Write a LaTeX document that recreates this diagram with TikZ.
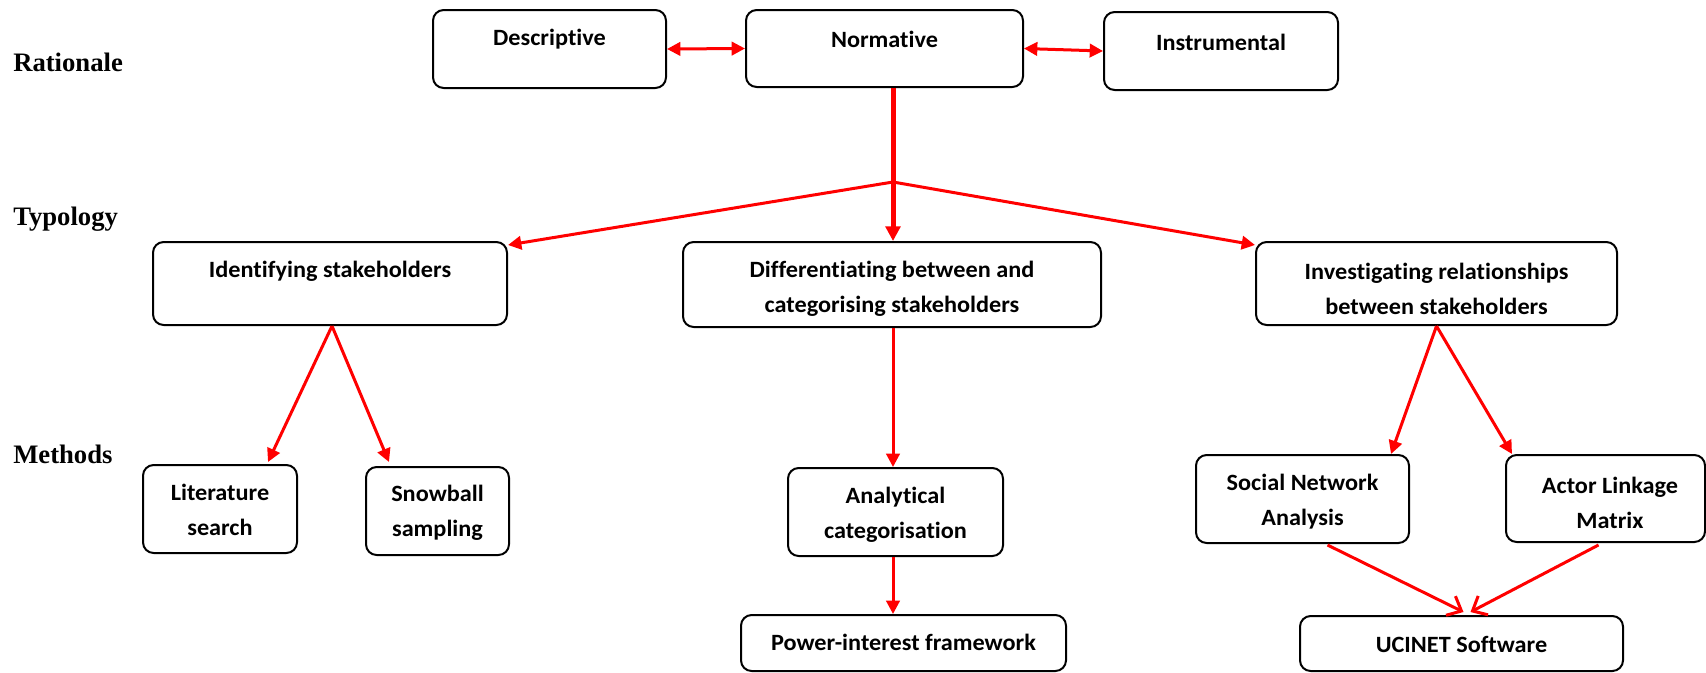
\documentclass[tikz,border=0pt]{standalone}
\usepackage{fontspec}
\setmainfont[Ligatures=CommonOff,FakeStretch=1.04]{Carlito}
\newfontfamily\rowfont{Liberation Serif}
\usetikzlibrary{arrows.meta,fit,calc}
\definecolor{arrowred}{RGB}{255,0,0}
\begin{document}
\begin{tikzpicture}[x=0.75pt,y=-0.75pt,
  box/.style={draw=black,line width=1.5pt,rounded corners=8pt,inner sep=0pt},
  txt/.style={font=\fontsize{17.5}{26.25}\selectfont\bfseries,align=center,inner sep=0pt},
  rowlbl/.style={font=\fontsize{20}{24}\selectfont\rowfont\bfseries,anchor=west,inner sep=0pt},
  link/.style={draw=arrowred,line width=2.25pt,-{Triangle[length=10pt,width=10pt]}},
  duallink/.style={draw=arrowred,line width=2.25pt,{Triangle[length=10pt,width=10pt]}-{Triangle[length=10pt,width=10pt]}},
  openlink/.style={draw=arrowred,line width=2.25pt,-{Straight Barb[length=9pt,width=16pt,line width=2.25pt]}}]
\useasboundingbox (0,0) rectangle (1706,672);

% row labels
\node[rowlbl] (rat) at (13,62) {Rationale};
\node[rowlbl] (typ) at (13,219) {Typology};
\node[rowlbl] (met) at (13,454) {Methods};

% rationale boxes
\node[box,fit={(433,10) (666,88)}] (desc) {};
\node[box,fit={(746,10) (1023,87)}] (norm) {};
\node[box,fit={(1104,12) (1338,90)}] (instr) {};
\node[txt] (descT) at (549.5,39) {Descriptive};
\node[txt] (normT) at (884.5,39) {Normative};
\node[txt] (instrT) at (1221,42) {Instrumental};

% typology boxes
\node[box,fit={(153,242) (507,325)}] (ident) {};
\node[box,fit={(683,242) (1101,327)}] (diff) {};
\node[box,fit={(1256,242) (1617,325)}] (inv) {};
\node[txt] (identT) at (330,271) {Identifying stakeholders};
\node[txt] (diffT) at (892,288.5) {Differentiating between and\\categorising stakeholders};
\node[txt] (invT) at (1436.5,288.5) {Investigating relationships\\between stakeholders};

% method boxes
\node[box,fit={(143,465) (297,553)}] (lit) {};
\node[box,fit={(366,467) (509,555)}] (snow) {};
\node[box,fit={(788,468) (1003,556)}] (anal) {};
\node[box,fit={(741,615) (1066,671)}] (power) {};
\node[box,fit={(1196,455) (1409,543)}] (sna) {};
\node[box,fit={(1506,455) (1705,542)}] (alm) {};
\node[box,fit={(1300,616) (1623,671)}] (ucinet) {};
\node[txt] (litT) at (220,509.5) {Literature\\search};
\node[txt] (snowT) at (437.5,512.5) {Snowball\\sampling};
\node[txt] (analT) at (895.5,514.5) {Analytical\\categorisation};
\node[txt] (powerT) at (903.5,642) {Power-interest framework};
\node[txt] (snaT) at (1302.5,501.5) {Social Network\\Analysis};
\node[txt] (almT) at (1610,503) {Actor Linkage\\Matrix};
\node[txt] (ucinetT) at (1461.5,644) {UCINET Software};

% rationale links
\draw[duallink] (desc.east) -- (norm.west);
\draw[duallink] (norm.east) -- (instr.west);

% normative to typology: one straight spine at the middle column
\coordinate (spine) at ($(diff.north)+(1,0)$);
\coordinate (fork) at (spine |- 0,182);
\draw[draw=arrowred,line width=3.75pt,-{Triangle[length=11pt,width=11pt]}] (spine |- norm.south) -- (spine);
\draw[link] (fork) -- ($(ident.north east)+(0,4)$);
\draw[link] (fork) -- ($(inv.north west)+(0,4)$);

% typology to methods
\draw[link] ($(ident.south)+(2,0)$) -- ($(lit.north east)+(-30,-2)$);
\draw[link] ($(ident.south)+(2,0)$) -- ($(snow.north west)+(24,-4)$);
\draw[link] (spine |- diff.south) -- (spine |- anal.north);
\draw[link] (spine |- anal.south) -- (spine |- power.north);
\draw[link] (inv.south) -- ($(sna.north east)+(-19,0)$);
\draw[link] (inv.south) -- ($(alm.north west)+(7,0)$);

% methods to software
\draw[openlink] ($(sna.south)+(25,1)$) -- ($(ucinet.north)+(2,-3)$);
\draw[openlink] ($(alm.south)+(-7,2)$) -- ($(ucinet.north)+(9,-3)$);
\end{tikzpicture}
\end{document}
